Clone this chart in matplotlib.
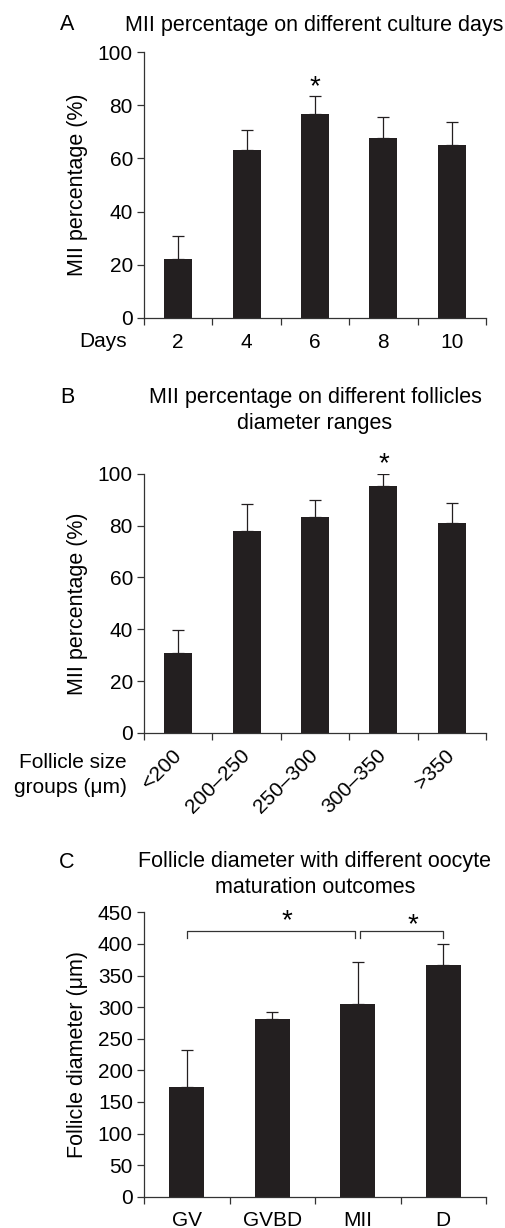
import numpy as np
import matplotlib
matplotlib.use("Agg")
import matplotlib.pyplot as plt

plt.rcParams['font.family'] = ['Liberation Sans', 'DejaVu Sans']

# panel A: MII % by culture day
days = ['2', '4', '6', '8', '10']
mii_days = [22.1, 63.2, 76.8, 67.7, 65.1]
mii_days_err = [8.8, 7.6, 6.6, 7.8, 8.8]

# panel B: MII % by follicle size group
size_groups = ['<200', '200\u2013250', '250\u2013300', '300\u2013350', '>350']
mii_size = [30.9, 77.9, 83.3, 95.1, 81.0]
mii_size_err = [8.7, 10.5, 6.7, 4.9, 7.8]

# panel C: follicle diameter by outcome
outcomes = ['GV', 'GVBD', 'MII', 'D']
diam = [173.6, 281.0, 305.0, 366.7]
diam_err = [58.4, 10.8, 66.0, 33.2]

W, H = 505, 1228
bar_col = '#231f20'
fs = 15.5    # titles / labels
tfs = 15     # tick labels
sfs = 20     # stars

fig = plt.figure(figsize=(W/100, H/100), dpi=100)


def make_axes(top_px, bottom_px):
    left, right = 144, 486
    return fig.add_axes([left/W, 1 - bottom_px/H, (right-left)/W, (bottom_px-top_px)/H])


def bars(ax, labels, vals, errs, ymax, ystep, rot=0, xpad=11):
    n = len(labels)
    x = np.arange(n)
    ax.bar(x, vals, width=0.41, color=bar_col, zorder=2)
    ax.errorbar(x, vals, yerr=[np.zeros(n), errs], fmt='none', ecolor=bar_col,
                elinewidth=0.9, capsize=4.3, capthick=0.9, zorder=3)
    ax.set_xlim(-0.5, n - 0.5)
    ax.set_ylim(0, ymax)
    ax.set_yticks(np.arange(0, ymax + 1, ystep))
    ax.spines['top'].set_visible(False)
    ax.spines['right'].set_visible(False)
    for s in ['left', 'bottom']:
        ax.spines[s].set_linewidth(0.9)
        ax.spines[s].set_color('#333333')
    # ticks at boundaries, labels at centres
    ax.set_xticks(np.arange(-0.5, n, 1.0))
    ax.set_xticklabels([])
    ax.set_xticks(x, minor=True)
    if rot:
        ax.set_xticklabels(labels, minor=True, rotation=rot, ha='right',
                           rotation_mode='anchor', va='center')
    else:
        ax.set_xticklabels(labels, minor=True)
    ax.tick_params(axis='x', which='major', direction='out', length=5, width=0.9, color='#333333')
    ax.tick_params(axis='x', which='minor', length=0, labelsize=tfs, pad=xpad)
    ax.tick_params(axis='y', direction='out', length=5, width=0.9, color='#333333',
                   labelsize=tfs, pad=3)
    ax.set_facecolor('none')


# A
axA = make_axes(52.3, 317.7)
bars(axA, days, mii_days, mii_days_err, 100, 20, xpad=11)
axA.set_ylabel('MII percentage (%)', fontsize=fs, labelpad=7)
axA.text(2, 87, '*', ha='center', va='center', fontsize=sfs)
axA.annotate('Days', xy=(0, 0), xycoords='axes fraction', xytext=(-17, -24),
             textcoords='offset pixels', ha='right', va='center', fontsize=tfs)
fig.text(67/W, 1 - 25/H, 'A', ha='center', va='center', fontsize=fs)
fig.text(314/W, 1 - 25/H, 'MII percentage on different culture days', ha='center',
         va='center', fontsize=fs)

# B
axB = make_axes(473.7, 733)
bars(axB, size_groups, mii_size, mii_size_err, 100, 20, rot=45, xpad=14)
axB.set_ylabel('MII percentage (%)', fontsize=fs, labelpad=7)
axB.text(3, 103.5, '*', ha='center', va='center', fontsize=sfs)
axB.annotate('Follicle size\ngroups (\u03bcm)', xy=(0, 0), xycoords='axes fraction',
             xytext=(-17, -42), textcoords='offset pixels', ha='right', va='center',
             fontsize=tfs, linespacing=1.35)
fig.text(67/W, 1 - 398/H, 'B', ha='center', va='center', fontsize=fs)
fig.text(315/W, 1 - 410.5/H, 'MII percentage on different follicles\ndiameter ranges',
         ha='center', va='center', fontsize=fs, linespacing=1.35)

# C
axC = make_axes(912.3, 1196.7)
bars(axC, outcomes, diam, diam_err, 450, 50, xpad=10)
axC.set_ylabel('Follicle diameter (\u03bcm)', fontsize=fs, labelpad=7)
# significance brackets
br_y, br_leg = 420, 410
axC.plot([0, 0, 1.97, 1.97], [br_leg, br_y, br_y, br_leg], color='#333333', lw=0.9)
axC.plot([2.03, 2.03, 3.0, 3.0], [br_leg, br_y, br_y, br_leg], color='#333333', lw=0.9)
axC.text(1.17, 436, '*', ha='center', va='center', fontsize=sfs)
axC.text(2.65, 430, '*', ha='center', va='center', fontsize=sfs)
fig.text(67/W, 1 - 862/H, 'C', ha='center', va='center', fontsize=fs)
fig.text(315/W, 1 - 874.5/H, 'Follicle diameter with different oocyte\nmaturation outcomes',
         ha='center', va='center', fontsize=fs, linespacing=1.35)

fig.savefig('out.png', dpi=100)
